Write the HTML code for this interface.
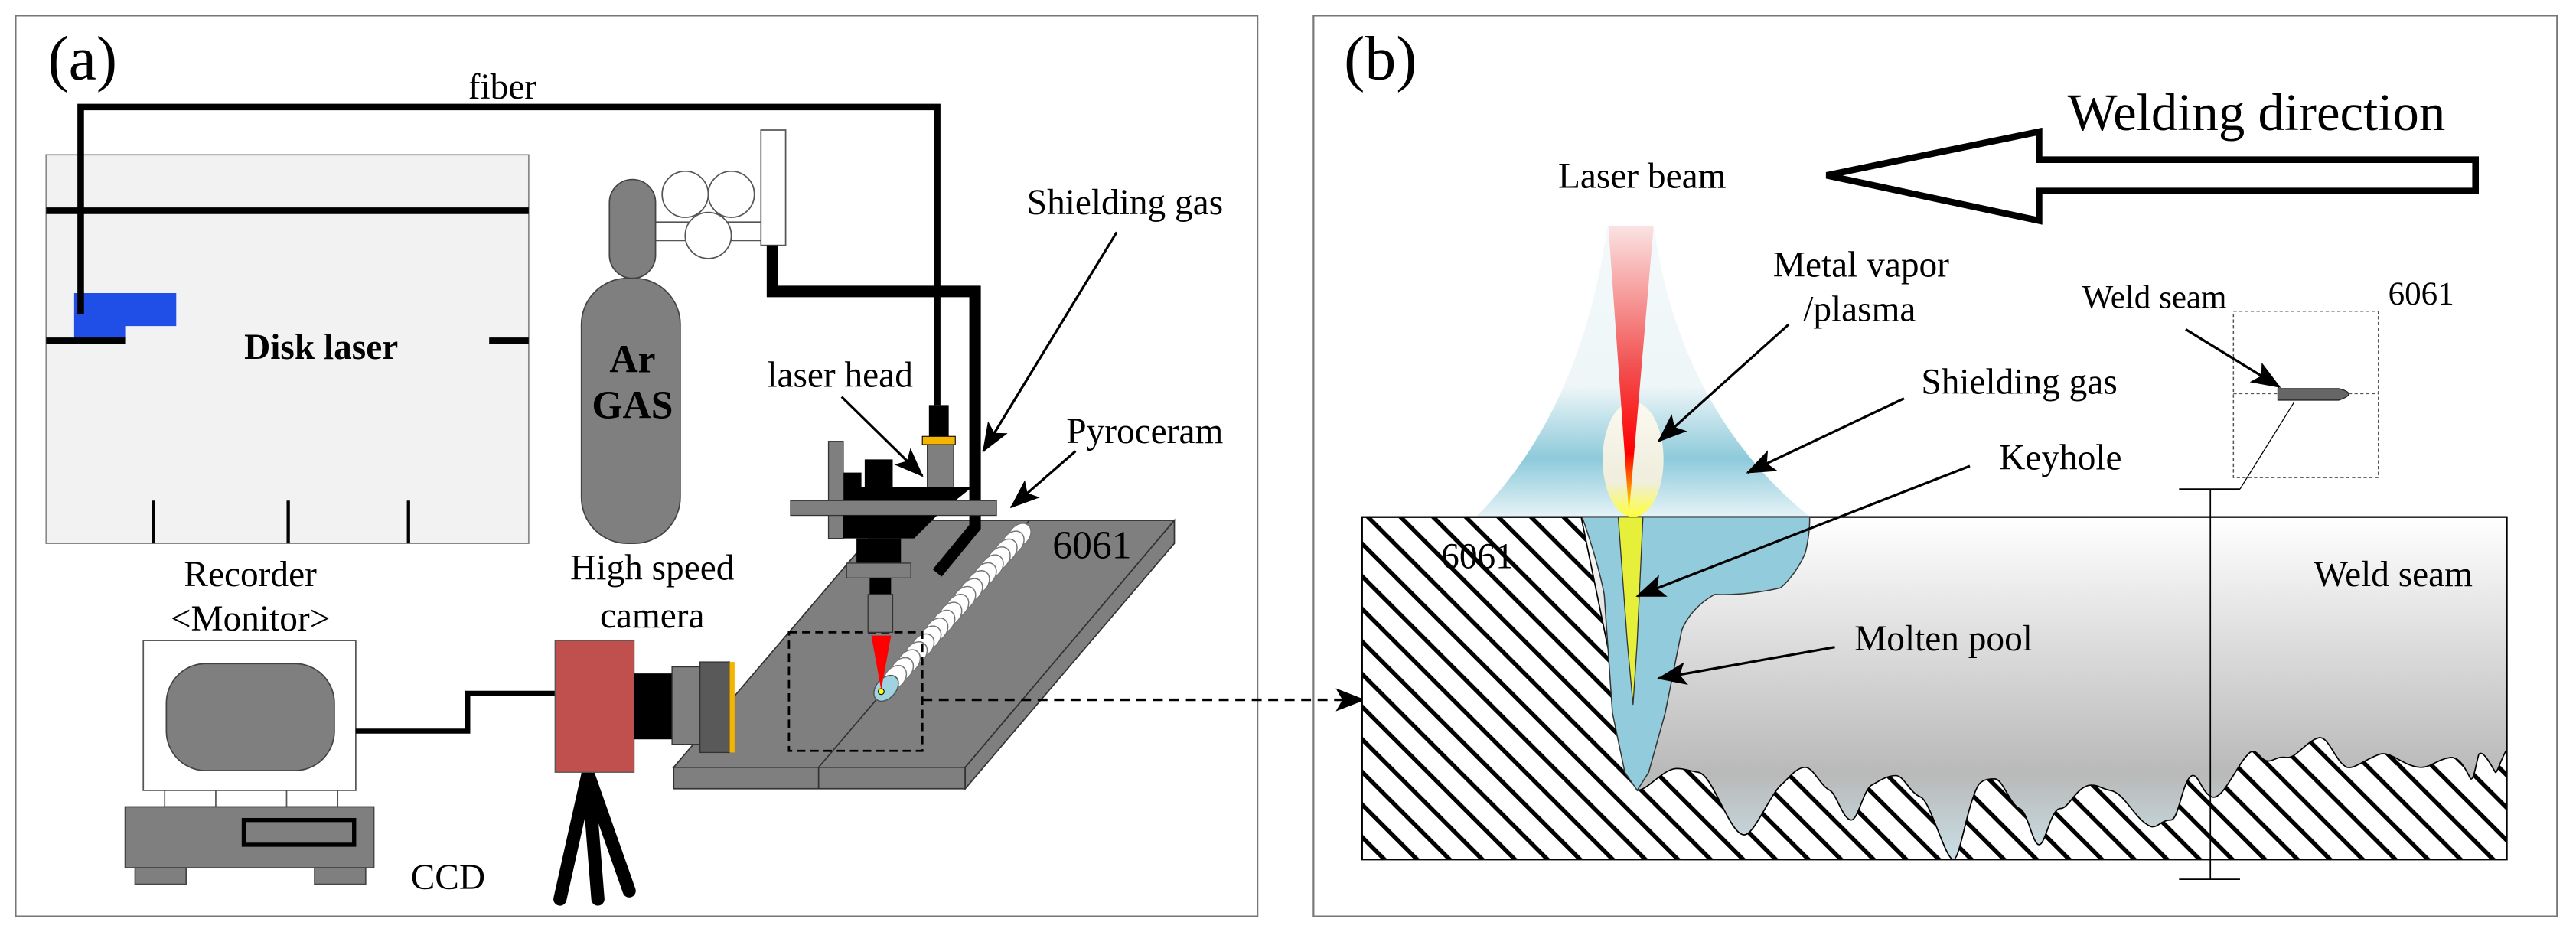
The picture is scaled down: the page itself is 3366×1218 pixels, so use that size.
<!DOCTYPE html>
<html><head><meta charset="utf-8"><style>html,body{margin:0;padding:0;background:#fff}svg{display:block}text{font-family:"Liberation Serif",serif}</style></head>
<body>
<svg width="3366" height="1218" viewBox="0 0 1564 566" preserveAspectRatio="none" xmlns="http://www.w3.org/2000/svg">
<defs>
<pattern id="hatch" patternUnits="userSpaceOnUse" width="14" height="14" patternTransform="rotate(-45)">
<rect width="14" height="14" fill="#fff"/>
<rect x="0" y="0" width="2.6" height="14" fill="#000"/>
</pattern>
<linearGradient id="g2" x1="0" y1="314" x2="0" y2="522" gradientUnits="userSpaceOnUse">
<stop offset="0" stop-color="#ffffff"/><stop offset="0.75" stop-color="#b9b9b9"/><stop offset="1" stop-color="#c9dfe6"/>
</linearGradient>
<linearGradient id="gas" x1="0" y1="137" x2="0" y2="314" gradientUnits="userSpaceOnUse">
<stop offset="0" stop-color="#f4f9fb"/><stop offset="0.55" stop-color="#eef6f8"/><stop offset="0.8" stop-color="#8ecadb"/><stop offset="1" stop-color="#e6f3f7"/>
</linearGradient>
<linearGradient id="beam" x1="0" y1="137" x2="0" y2="310" gradientUnits="userSpaceOnUse">
<stop offset="0" stop-color="#fbe3e3"/><stop offset="0.5" stop-color="#f25050"/><stop offset="0.8" stop-color="#ff0000"/><stop offset="1" stop-color="#ffee00"/>
</linearGradient>
<linearGradient id="plume" x1="0" y1="244" x2="0" y2="314" gradientUnits="userSpaceOnUse">
<stop offset="0" stop-color="#fffaf0"/><stop offset="0.7" stop-color="#f3efdc"/><stop offset="1" stop-color="#ffff33"/>
</linearGradient>
<marker id="ah2" markerWidth="18" markerHeight="14" refX="17" refY="7" orient="auto" markerUnits="userSpaceOnUse"><path d="M0,0 L18,7 L0,14 L4,7 Z" fill="#000"/></marker>
</defs>

<!-- Panel a -->
<rect x="9.5" y="9.5" width="754" height="547" fill="#fff" stroke="#777" stroke-width="1"/>
<text x="29" y="48" font-size="38">(a)</text>
<text x="305" y="60" font-size="22" text-anchor="middle">fiber</text>

<rect x="28" y="94" width="293" height="236" fill="#f2f2f2" stroke="#888" stroke-width="0.8"/>
<line x1="28" y1="128" x2="321" y2="128" stroke="#000" stroke-width="4"/>
<polygon points="45,178 107,178 107,198 76,198 76,206 45,206" fill="#1f4fe6"/>
<line x1="28" y1="207" x2="76" y2="207" stroke="#000" stroke-width="4"/>
<line x1="297" y1="207" x2="321" y2="207" stroke="#000" stroke-width="4"/>
<text x="195" y="218" font-size="22" font-weight="bold" text-anchor="middle">Disk laser</text>
<line x1="93" y1="304" x2="93" y2="330" stroke="#000" stroke-width="2"/>
<line x1="175" y1="304" x2="175" y2="330" stroke="#000" stroke-width="2"/>
<line x1="248" y1="304" x2="248" y2="330" stroke="#000" stroke-width="2"/>
<polyline points="49,191 49,65 569,65 569,246" fill="none" stroke="#000" stroke-width="4"/>

<!-- Ar gas -->
<line x1="398" y1="135" x2="463" y2="135" stroke="#555" stroke-width="1"/>
<line x1="398" y1="146" x2="463" y2="146" stroke="#555" stroke-width="1"/>
<rect x="370" y="109" width="28" height="60" rx="14" fill="#7f7f7f" stroke="#444" stroke-width="0.8"/>
<rect x="353" y="169" width="60" height="161" rx="28" fill="#7f7f7f" stroke="#444" stroke-width="0.8"/>
<text x="384" y="226" font-size="24" font-weight="bold" text-anchor="middle">Ar</text>
<text x="384" y="254" font-size="24" font-weight="bold" text-anchor="middle">GAS</text>
<circle cx="416" cy="118" r="14" fill="#fff" stroke="#555" stroke-width="0.8"/>
<circle cx="444" cy="118" r="14" fill="#fff" stroke="#555" stroke-width="0.8"/>
<circle cx="430" cy="143" r="14" fill="#fff" stroke="#555" stroke-width="0.8"/>
<rect x="462" y="79" width="15" height="70" fill="#fff" stroke="#555" stroke-width="0.8"/>

<!-- Workpiece -->
<polygon points="409,466 586,466 713,316 537,316" fill="#7f7f7f" stroke="#333" stroke-width="0.8"/>
<polygon points="409,466 586,466 586,479 409,479" fill="#7f7f7f" stroke="#333" stroke-width="0.8"/>
<polygon points="586,466 713,316 713,330 586,479" fill="#7f7f7f" stroke="#333" stroke-width="0.8"/>
<line x1="497" y1="466" x2="625" y2="316" stroke="#333" stroke-width="0.8"/>
<line x1="497" y1="466" x2="497" y2="479" stroke="#333" stroke-width="0.8"/>
<g fill="#fff" stroke="#777" stroke-width="0.7">
<ellipse cx="619" cy="325" rx="8" ry="6" transform="rotate(-49 619 325)"/>
<ellipse cx="614.8" cy="329.8" rx="8" ry="6" transform="rotate(-49 614.8 329.8)"/>
<ellipse cx="610.6" cy="334.6" rx="8" ry="6" transform="rotate(-49 610.6 334.6)"/>
<ellipse cx="606.4" cy="339.4" rx="8" ry="6" transform="rotate(-49 606.4 339.4)"/>
<ellipse cx="602.2" cy="344.2" rx="8" ry="6" transform="rotate(-49 602.2 344.2)"/>
<ellipse cx="598" cy="349" rx="8" ry="6" transform="rotate(-49 598 349)"/>
<ellipse cx="593.8" cy="353.8" rx="8" ry="6" transform="rotate(-49 593.8 353.8)"/>
<ellipse cx="589.6" cy="358.6" rx="8" ry="6" transform="rotate(-49 589.6 358.6)"/>
<ellipse cx="585.4" cy="363.4" rx="8" ry="6" transform="rotate(-49 585.4 363.4)"/>
<ellipse cx="581.2" cy="368.2" rx="8" ry="6" transform="rotate(-49 581.2 368.2)"/>
<ellipse cx="577" cy="373" rx="8" ry="6" transform="rotate(-49 577 373)"/>
<ellipse cx="572.8" cy="377.8" rx="8" ry="6" transform="rotate(-49 572.8 377.8)"/>
<ellipse cx="568.6" cy="382.6" rx="8" ry="6" transform="rotate(-49 568.6 382.6)"/>
<ellipse cx="564.4" cy="387.4" rx="8" ry="6" transform="rotate(-49 564.4 387.4)"/>
<ellipse cx="560.2" cy="392.2" rx="8" ry="6" transform="rotate(-49 560.2 392.2)"/>
<ellipse cx="556" cy="397" rx="8" ry="6" transform="rotate(-49 556 397)"/>
<ellipse cx="551.8" cy="401.8" rx="8" ry="6" transform="rotate(-49 551.8 401.8)"/>
<ellipse cx="547.6" cy="406.6" rx="8" ry="6" transform="rotate(-49 547.6 406.6)"/>
<ellipse cx="543.4" cy="411.4" rx="8" ry="6" transform="rotate(-49 543.4 411.4)"/>
</g>
<ellipse cx="538" cy="418" rx="9" ry="6" transform="rotate(-49 538 418)" fill="#9fd3e0" stroke="#555" stroke-width="0.7"/>
<circle cx="535" cy="420" r="1.8" fill="#ff0" stroke="#000" stroke-width="0.5"/>
<text x="663" y="339" font-size="24" text-anchor="middle">6061</text>
<rect x="479" y="384" width="81" height="72" fill="none" stroke="#000" stroke-width="1.3" stroke-dasharray="5 3"/>

<!-- gas hose -->
<polyline points="469,149 469,177 592,177 592,320 569,348" fill="none" stroke="#000" stroke-width="7"/>

<!-- laser head -->
<rect x="564" y="246" width="12" height="19" fill="#000"/>
<rect x="560" y="265" width="20" height="5" fill="#f5b400" stroke="#000" stroke-width="0.5"/>
<rect x="563" y="270" width="16" height="26" fill="#7f7f7f" stroke="#333" stroke-width="0.6"/>
<rect x="525" y="279" width="17" height="17" fill="#000"/>
<rect x="512" y="287" width="11" height="9" fill="#000"/>
<polygon points="512,296 590,296 580,304 512,304" fill="#000"/>
<rect x="503" y="268" width="9" height="59" fill="#7f7f7f" stroke="#333" stroke-width="0.6"/>
<rect x="480" y="304" width="125" height="9" fill="#7f7f7f" stroke="#333" stroke-width="0.6"/>
<polygon points="512,313 569,313 555,327 512,327" fill="#000"/>
<rect x="520" y="327" width="27" height="15" fill="#000"/>
<rect x="514" y="342" width="39" height="9" fill="#7f7f7f" stroke="#333" stroke-width="0.6"/>
<rect x="528" y="351" width="13" height="10" fill="#000"/>
<rect x="527" y="361" width="15" height="23" fill="#7f7f7f" stroke="#333" stroke-width="0.6"/>
<polygon points="529,386 541,386 535,419" fill="#ff0000"/>

<!-- labels a -->
<text x="683" y="130" font-size="22" text-anchor="middle">Shielding gas</text>
<line x1="678" y1="141" x2="597" y2="274" stroke="#000" stroke-width="1.5" marker-end="url(#ah2)"/>
<text x="510" y="235" font-size="22" text-anchor="middle">laser head</text>
<line x1="511" y1="241" x2="560" y2="289" stroke="#000" stroke-width="1.5" marker-end="url(#ah2)"/>
<text x="695" y="269" font-size="22" text-anchor="middle">Pyroceram</text>
<line x1="653" y1="274" x2="614" y2="308" stroke="#000" stroke-width="1.5" marker-end="url(#ah2)"/>

<!-- recorder -->
<text x="152" y="356" font-size="22" text-anchor="middle">Recorder</text>
<text x="152" y="383" font-size="22" text-anchor="middle">&lt;Monitor&gt;</text>
<rect x="87" y="389" width="129" height="91" fill="#fff" stroke="#555" stroke-width="0.8"/>
<rect x="101" y="403" width="102" height="65" rx="24" fill="#7f7f7f" stroke="#444" stroke-width="0.8"/>
<rect x="100" y="480" width="31" height="10" fill="#fff" stroke="#555" stroke-width="0.8"/>
<rect x="174" y="480" width="31" height="10" fill="#fff" stroke="#555" stroke-width="0.8"/>
<rect x="76" y="490" width="151" height="37" fill="#7f7f7f" stroke="#444" stroke-width="0.8"/>
<rect x="148" y="498" width="67" height="15" fill="none" stroke="#000" stroke-width="2.5"/>
<rect x="82" y="527" width="31" height="10" fill="#7f7f7f" stroke="#444" stroke-width="0.8"/>
<rect x="191" y="527" width="31" height="10" fill="#7f7f7f" stroke="#444" stroke-width="0.8"/>
<polyline points="216,444 284,444 284,421 337,421" fill="none" stroke="#000" stroke-width="3"/>
<text x="272" y="540" font-size="22" text-anchor="middle">CCD</text>

<!-- camera -->
<text x="396" y="352" font-size="22" text-anchor="middle">High speed</text>
<text x="396" y="381" font-size="22" text-anchor="middle">camera</text>
<g stroke="#000" stroke-width="8" stroke-linecap="round">
<line x1="357" y1="470" x2="340" y2="546"/>
<line x1="357" y1="470" x2="363" y2="546"/>
<line x1="357" y1="470" x2="382" y2="541"/>
</g>
<rect x="337" y="389" width="48" height="80" fill="#c0504d" stroke="#555" stroke-width="0.6"/>
<rect x="385" y="409" width="23" height="40" fill="#000"/>
<rect x="408" y="405" width="17" height="47" fill="#7f7f7f" stroke="#333" stroke-width="0.6"/>
<rect x="425" y="402" width="18" height="55" fill="#595959" stroke="#333" stroke-width="0.6"/>
<rect x="443" y="402" width="3" height="55" fill="#f5b400"/>

<!-- Panel b -->
<rect x="797.5" y="9.5" width="755" height="547" fill="#fff" stroke="#777" stroke-width="1"/>
<line x1="560" y1="425" x2="828" y2="425" stroke="#000" stroke-width="1.6" stroke-dasharray="6 4" marker-end="url(#ah2)"/>
<text x="816" y="48" font-size="38">(b)</text>
<text x="1370" y="79" font-size="32" text-anchor="middle">Welding direction</text>
<polygon points="1109,106.5 1238,80 1238,97 1503,97 1503,116 1238,116 1238,134" fill="#fff" stroke="#000" stroke-width="4"/>
<text x="997" y="114" font-size="22" text-anchor="middle">Laser beam</text>

<path d="M976,137 L1004,137 Q1020,250 1099,314 L896,314 Q960,250 976,137 Z" fill="url(#gas)"/>

<!-- workpiece -->
<rect x="827" y="314" width="695" height="208" fill="url(#hatch)" stroke="#000" stroke-width="1"/>
<path d="M960,314 L1522,314 L1522,455 C1518,462 1516,470 1515,469 C1510,460 1507,456 1505,458 C1503,465 1502,474 1500,473 C1496,465 1493,460 1488,460 C1480,461 1476,466 1470,466 C1460,466 1452,456 1445,458 C1436,461 1430,467 1425,466 C1418,463 1414,447 1408,448 C1400,450 1394,461 1388,460 C1382,459 1380,463 1376,462 C1372,461 1370,454 1366,457 C1358,464 1350,486 1343,484 C1337,482 1335,470 1331,471 C1325,473 1323,498 1318,498 C1312,498 1310,503 1306,502 C1296,498 1290,481 1281,480 C1276,479 1273,476 1268,477 C1260,479 1256,491 1251,491 C1245,491 1242,513 1238,513 C1234,513 1231,492 1226,491 C1220,488 1216,473 1211,473 C1206,473 1203,474 1201,477 C1194,490 1190,522 1186,522 C1181,522 1172,486 1166,484 C1159,481 1156,471 1151,471 C1145,471 1140,475 1136,477 C1131,481 1128,498 1124,498 C1119,498 1115,482 1111,480 C1105,477 1101,466 1096,466 C1090,466 1085,474 1081,477 C1074,484 1065,507 1059,507 C1050,507 1040,470 1031,469 C1025,468 1020,466 1016,467 C1008,469 1000,480 994,480 Z" fill="url(#g2)" stroke="#000" stroke-width="0.8" stroke-linejoin="round"/>
<line x1="827" y1="314" x2="1522" y2="314" stroke="#000" stroke-width="1"/>
<path d="M960.6,314 L1098.7,314 C1099,325 1096,336 1096,336 C1090,350 1081,357 1081,357 C1060,362 1041,361 1041,361 C1025,370 1021,383 1021,383 L1011,433 L1001,469 L994,480 L986.5,469 L979,433 L974,361 C970,340 960.6,314 960.6,314 Z" fill="#92cbdb" stroke="#333" stroke-width="0.7"/>
<path d="M982.5,314 L997.5,314 L994,390 L991.5,428 L988,390 Z" fill="#e6ef3a" stroke="#333" stroke-width="0.6"/>
<ellipse cx="991.5" cy="279" rx="18.5" ry="35" fill="url(#plume)" opacity="0.95"/>
<polygon points="976.5,137 1004,137 989,312" fill="url(#beam)"/>
<text x="897" y="345" font-size="22" text-anchor="middle">6061</text>
<text x="1453" y="356" font-size="22" text-anchor="middle">Weld seam</text>

<!-- section marker -->
<line x1="1342" y1="297" x2="1342" y2="534" stroke="#000" stroke-width="0.8"/>
<line x1="1323" y1="297" x2="1360" y2="297" stroke="#000" stroke-width="0.8"/>
<line x1="1323" y1="534" x2="1360" y2="534" stroke="#000" stroke-width="0.8"/>
<line x1="1360" y1="297" x2="1393" y2="244" stroke="#000" stroke-width="0.6"/>
<rect x="1356" y="189" width="88" height="101" fill="none" stroke="#555" stroke-width="0.7" stroke-dasharray="2 1.5"/>
<line x1="1356" y1="239" x2="1444" y2="239" stroke="#555" stroke-width="0.7" stroke-dasharray="2 1.5"/>
<path d="M1383,236 L1420,236 Q1432,239 1420,243 L1383,243 Z" fill="#666" stroke="#222" stroke-width="0.6"/>

<!-- labels b -->
<text x="1130" y="168" font-size="22" text-anchor="middle">Metal vapor</text>
<text x="1129" y="195" font-size="22" text-anchor="middle">/plasma</text>
<line x1="1086" y1="197" x2="1007" y2="268" stroke="#000" stroke-width="1.5" marker-end="url(#ah2)"/>
<text x="1226" y="239" font-size="22" text-anchor="middle">Shielding gas</text>
<line x1="1156" y1="242" x2="1061" y2="287" stroke="#000" stroke-width="1.5" marker-end="url(#ah2)"/>
<text x="1251" y="285" font-size="22" text-anchor="middle">Keyhole</text>
<line x1="1196" y1="283" x2="994" y2="362" stroke="#000" stroke-width="1.5" marker-end="url(#ah2)"/>
<text x="1180" y="395" font-size="22" text-anchor="middle">Molten pool</text>
<line x1="1114" y1="393" x2="1007" y2="412" stroke="#000" stroke-width="1.5" marker-end="url(#ah2)"/>
<text x="1308" y="187" font-size="20" text-anchor="middle">Weld seam</text>
<line x1="1327" y1="200" x2="1384" y2="235" stroke="#000" stroke-width="1.5" marker-end="url(#ah2)"/>
<text x="1470" y="185" font-size="20" text-anchor="middle">6061</text>
</svg>
</body></html>
